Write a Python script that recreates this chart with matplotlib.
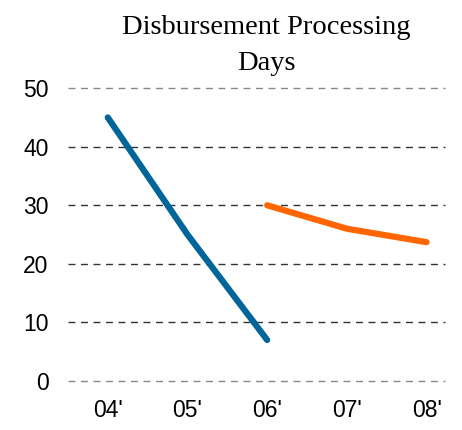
import matplotlib
matplotlib.use('Agg')
import matplotlib.pyplot as plt

years = ["04'", "05'", "06'", "07'", "08'"]
before = [45, 25, 7]       # 04'-06'
after = [30, 26, 23.7]     # 06'-08'
yticks = [0, 10, 20, 30, 40, 50]

fig = plt.figure(figsize=(4.62, 4.30), dpi=100)
ax = fig.add_axes([0.147, 0.114, 0.816, 0.681])

for y in yticks:
    col = '#888888' if y in (0, 50) else '#333333'
    ax.axhline(y, color=col, linestyle=(0, (5, 4)), linewidth=1.0, zorder=1, clip_on=False)

ax.plot(range(0, 3), before, color='#006699', linewidth=4.5, solid_capstyle='round', zorder=3)
ax.plot(range(2, 5), after, color='#FF6600', linewidth=4.5, solid_capstyle='round', zorder=3)

ax.set_xlim(-0.5, 4.23)
ax.set_ylim(0, 50)
ax.set_xticks(range(len(years)))
ax.set_xticklabels(years)
ax.set_yticks(yticks)
ax.tick_params(length=0, labelsize=16.5, pad=13)
ax.tick_params(axis='y', pad=14)
for lab in ax.get_xticklabels() + ax.get_yticklabels():
    lab.set_family('Liberation Sans')
for s in ax.spines.values():
    s.set_visible(False)
ax.patch.set_alpha(0)

fig.text(0.576, 0.965, 'Disbursement Processing\nDays', ha='center', va='top',
         fontsize=20.5, family='Liberation Serif', linespacing=1.6)

fig.savefig('out.png', dpi=100)
